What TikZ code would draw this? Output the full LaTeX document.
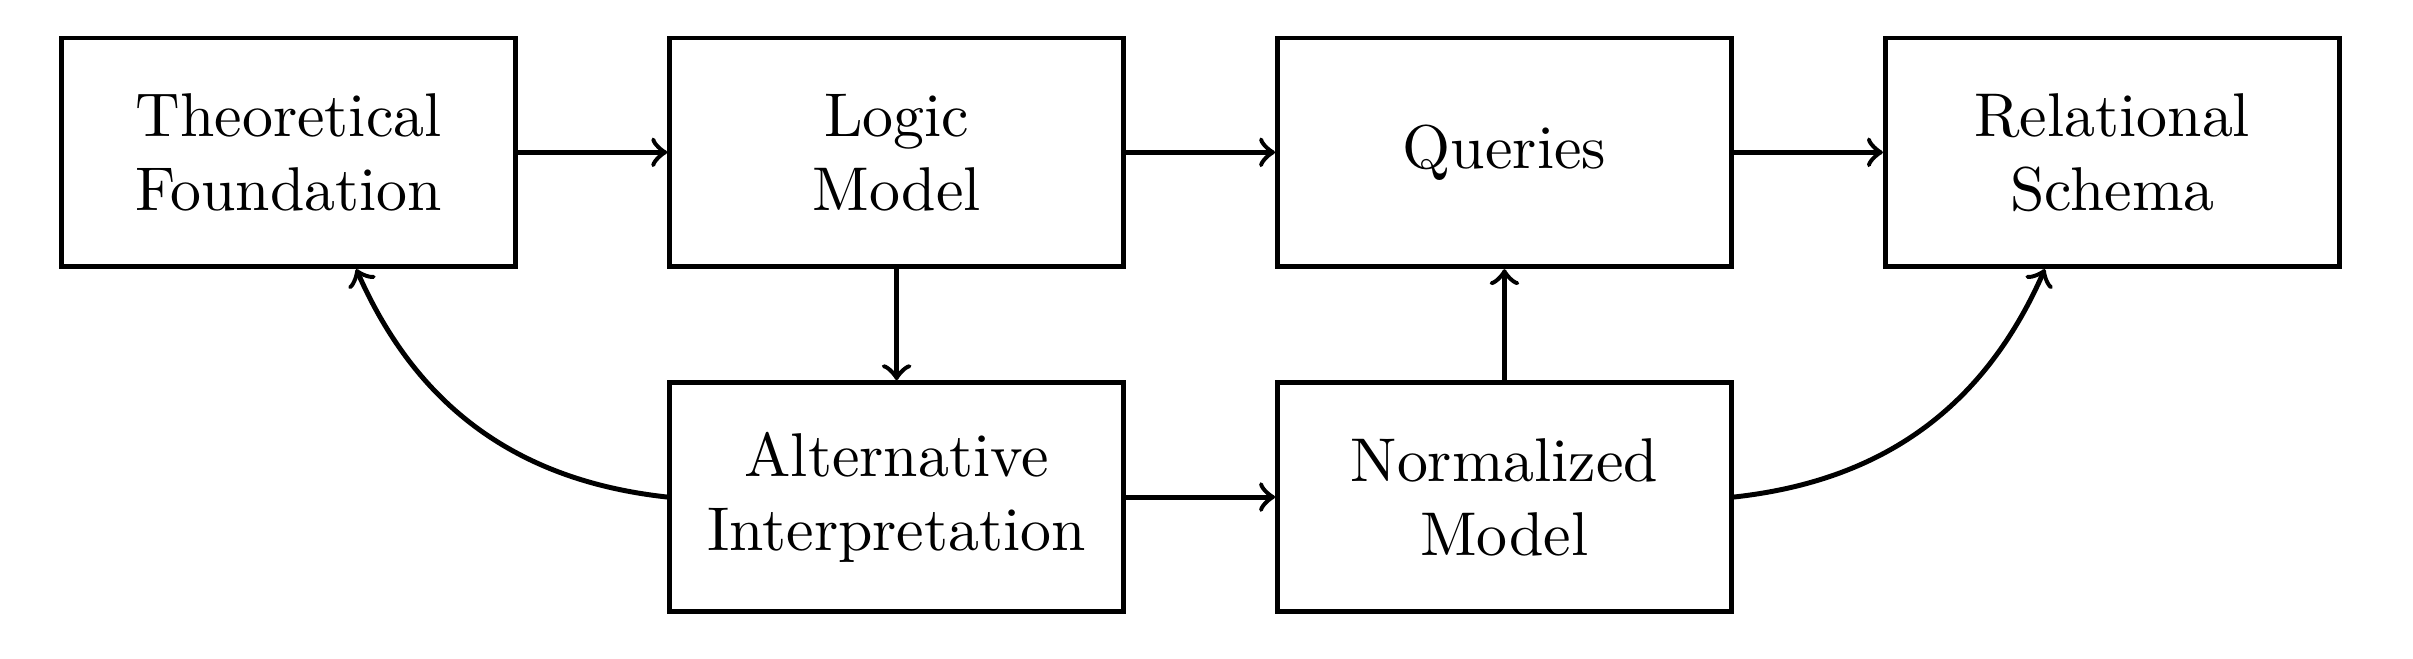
\documentclass[tikz,border=0pt]{standalone}
\begin{document}
\begin{tikzpicture}[box/.style={draw, thick, align=center, minimum width=2.58cm, minimum height=1.3cm, inner sep=2pt},
                    flow/.style={->, thick}]
            \useasboundingbox (0,0) rectangle (13.72,3.746);

            \node[box] (theory) at (1.642,2.88) {Theoretical\\Foundation};
            \node[box] (logic) at (5.098,2.88) {Logic\\Model};
            \node[box] (queries) at (8.554,2.88) {Queries};
            \node[box] (schema) at (12.010,2.88) {Relational\\Schema};

            \node[box] (alt) at (5.098,0.92) {Alternative\\Interpretation};
            \node[box] (norm) at (8.554,0.92) {Normalized\\Model};

            \draw[flow] (theory) -- (logic);
            \draw[flow] (logic) -- (queries);
            \draw[flow] (queries) -- (schema);
            \draw[flow] (logic) -- (alt);
            \draw[flow] (alt) -- (norm);
            \draw[flow] (norm) -- (queries);

            \draw[flow] (alt.west) to[bend left=30] (theory.-60);
            \draw[flow] (norm.east) to[bend right=30] (schema.-120);
        \end{tikzpicture}
\end{document}
